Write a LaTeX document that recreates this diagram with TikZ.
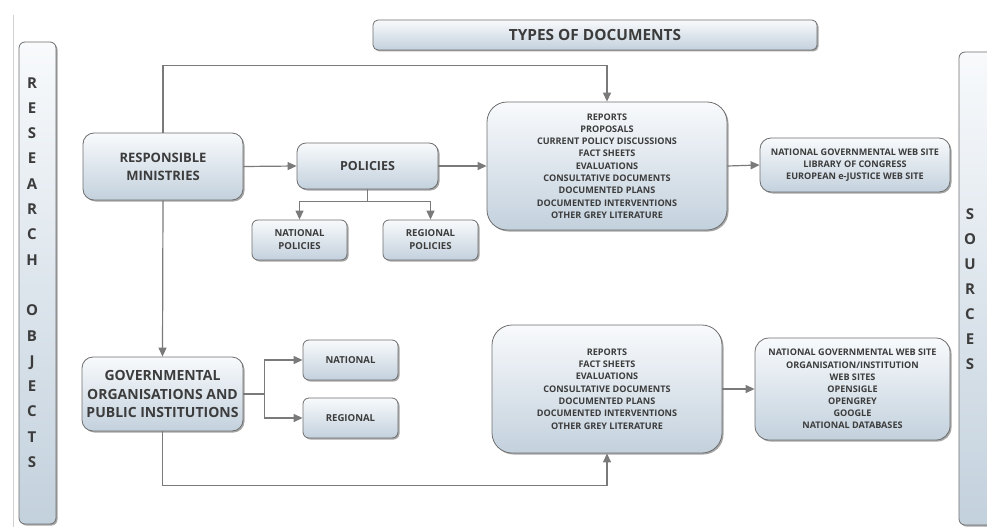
\documentclass[tikz,border=0pt]{standalone}
\usepackage{fontspec}
\setmainfont{Open Sans}
\usetikzlibrary{arrows.meta,shadows,positioning}
\definecolor{txt}{HTML}{3C3C3C}
\definecolor{edge}{HTML}{6E6E6E}
\definecolor{boxbot}{HTML}{C3D1DD}
\definecolor{boxtop}{HTML}{F8FAFC}
\definecolor{conn}{HTML}{7A7A7A}
\tikzset{
  x=1pt,y=-1pt,
  box/.style={draw=edge, line width=0.8pt, top color=boxtop, bottom color=boxbot,
    drop shadow={shadow xshift=1.5pt, shadow yshift=-1.5pt, opacity=0.35, fill=black},
    text=txt, font=\bfseries, align=center, inner sep=0pt, anchor=center},
  lbl/.style={text=txt, font=\bfseries, align=center, inner sep=0pt},
  link/.style={draw=conn, line width=1.2pt},
  arr/.style={link, -{Triangle[length=9pt,width=8pt]}},
  listfont/.style={font=\bfseries\fontsize{9.1}{12.3}\selectfont},
  smallfont/.style={font=\bfseries\fontsize{9.6}{13}\selectfont},
}
\begin{document}
\begin{tikzpicture}
\useasboundingbox (0,0) rectangle (987,527);
\draw[black!18, line width=0.8pt] (13,15) -- (13,527);
% side bars
\node[box, rounded corners=6pt, minimum width=37pt, minimum height=482pt] (res) at (37.5,283) {};
\node[lbl, font=\bfseries\fontsize{15}{25.3}\selectfont] (restext) at (32,272.5) {R\\E\\S\\E\\A\\R\\C\\H\\[25.3pt]O\\B\\J\\E\\C\\T\\S};
\node[box, rounded corners=6pt, minimum width=44pt, minimum height=473pt] (src) at (981,288.5) {};
\node[lbl, font=\bfseries\fontsize{15}{25}\selectfont] (srctext) at (970,289) {S\\O\\U\\R\\C\\E\\S};
% title
\node[box, rounded corners=5pt, minimum width=444pt, minimum height=30pt, font=\bfseries\fontsize{15.4}{17}\selectfont] (title) at (595,35) {TYPES OF DOCUMENTS};
% main nodes
\node[box, rounded corners=11pt, minimum width=160pt, minimum height=67pt, font=\bfseries\fontsize{13}{18}\selectfont] (rm) at (163,166.5) {RESPONSIBLE\\MINISTRIES};
\node[box, rounded corners=9pt, minimum width=141pt, minimum height=46pt, font=\bfseries\fontsize{12.5}{15}\selectfont] (pol) at (367.5,166) {POLICIES};
\node[box, rounded corners=6pt, minimum width=95pt, minimum height=40pt, smallfont] (natp) at (299.5,240) {NATIONAL\\POLICIES};
\node[box, rounded corners=6pt, minimum width=95pt, minimum height=40pt, smallfont] (regp) at (430.5,240) {REGIONAL\\POLICIES};
\node[box, rounded corners=20pt, minimum width=240pt, minimum height=128pt, listfont] (doc1) at (607,166) {REPORTS\\PROPOSALS\\CURRENT POLICY DISCUSSIONS\\FACT SHEETS\\EVALUATIONS\\CONSULTATIVE DOCUMENTS\\DOCUMENTED PLANS\\DOCUMENTED INTERVENTIONS\\OTHER GREY LITERATURE};
\node[box, rounded corners=11pt, minimum width=190pt, minimum height=54pt, listfont] (src1) at (855,165) {NATIONAL GOVERNMENTAL WEB SITE\\LIBRARY OF CONGRESS\\EUROPEAN e-JUSTICE WEB SITE};
\node[box, rounded corners=11pt, minimum width=161pt, minimum height=74pt, font=\bfseries\fontsize{14}{18.3}\selectfont] (gov) at (162.5,394) {GOVERNMENTAL\\ORGANISATIONS AND\\PUBLIC INSTITUTIONS};
\node[box, rounded corners=6pt, minimum width=95pt, minimum height=40pt, smallfont] (nat) at (350.5,360) {NATIONAL};
\node[box, rounded corners=6pt, minimum width=95pt, minimum height=40pt, smallfont] (reg) at (350.5,418) {REGIONAL};
\node[box, rounded corners=20pt, minimum width=230pt, minimum height=128pt, listfont] (doc2) at (607,389) {REPORTS\\FACT SHEETS\\EVALUATIONS\\CONSULTATIVE DOCUMENTS\\DOCUMENTED PLANS\\DOCUMENTED INTERVENTIONS\\OTHER GREY LITERATURE};
\node[box, rounded corners=14pt, minimum width=195pt, minimum height=102pt, font=\bfseries\fontsize{9.1}{12.1}\selectfont] (src2) at (852.5,389) {NATIONAL GOVERNMENTAL WEB SITE\\ORGANISATION/INSTITUTION\\WEB SITES\\OPENSIGLE\\OPENGREY\\GOOGLE\\NATIONAL DATABASES};
% connectors
\draw[arr] (rm.north) -- ++(0,-67) -| (doc1.north);
\draw[arr] (rm.east) -- (pol.west);
\draw[arr] (pol.east) -- (doc1.west);
\draw[arr] (doc1.east) -- (src1.west);
\draw[link] (pol.south) -- ++(0,12) coordinate (pj);
\draw[arr] (pj) -| (natp.north);
\draw[arr] (pj) -| (regp.north);
\draw[arr] (rm.south) -- (gov.north);
\draw[link] (gov.east) -- ++(21,0) coordinate (gj);
\draw[arr] (gj) |- (nat.west);
\draw[arr] (gj) |- (reg.west);
\draw[arr] (gov.south) -- ++(0,54) -| (doc2.south);
\draw[arr] (doc2.east) -- (src2.west);
\end{tikzpicture}
\end{document}
